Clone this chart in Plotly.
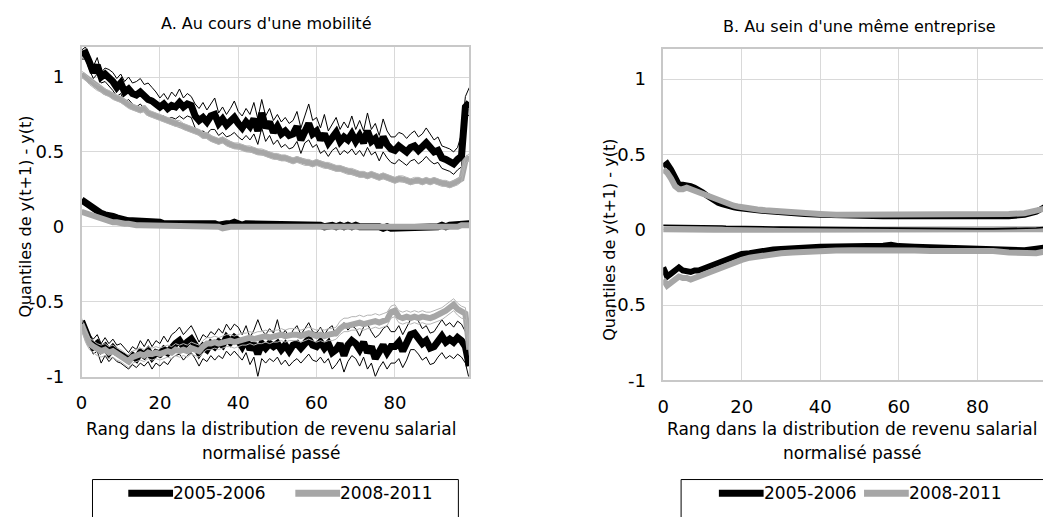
import plotly.graph_objects as go

W, H = 1043, 517

# ---------------- DATA ----------------
# Panel A : x = rank 0..99
LX = list(range(100))

A_black_q_hi = [1.15,1.16,1.10,1.03,1.08,1.00,1.02,1.00,0.97,0.93,
 0.96,0.90,0.92,0.89,0.88,0.90,0.87,0.85,0.84,0.82,
 0.80,0.82,0.79,0.81,0.80,0.83,0.80,0.82,0.81,0.74,
 0.71,0.73,0.70,0.74,0.75,0.69,0.72,0.68,0.70,0.73,
 0.69,0.66,0.70,0.67,0.72,0.64,0.76,0.66,0.70,0.63,
 0.67,0.62,0.64,0.61,0.62,0.67,0.58,0.65,0.69,0.62,
 0.64,0.58,0.62,0.56,0.60,0.63,0.57,0.60,0.58,0.62,
 0.57,0.61,0.56,0.64,0.57,0.59,0.53,0.60,0.55,0.52,
 0.51,0.54,0.52,0.50,0.53,0.54,0.51,0.53,0.56,0.53,
 0.50,0.51,0.46,0.45,0.44,0.42,0.45,0.47,0.80,0.83]
A_black_q_hi_ciup = [1.18,1.20,1.14,1.07,1.13,1.03,1.06,1.05,1.03,0.99,
 1.02,0.97,1.00,0.96,0.97,0.99,0.95,0.96,0.93,0.90,
 0.86,0.89,0.85,0.90,0.87,0.92,0.86,0.89,0.87,0.82,
 0.79,0.83,0.78,0.82,0.86,0.76,0.80,0.75,0.79,0.84,
 0.77,0.74,0.79,0.75,0.83,0.72,0.85,0.74,0.79,0.71,
 0.75,0.70,0.73,0.69,0.71,0.77,0.66,0.74,0.82,0.71,
 0.73,0.66,0.75,0.64,0.69,0.73,0.65,0.70,0.66,0.74,
 0.65,0.71,0.64,0.76,0.65,0.69,0.61,0.72,0.64,0.60,
 0.60,0.63,0.62,0.59,0.62,0.64,0.60,0.62,0.66,0.62,
 0.58,0.60,0.54,0.53,0.52,0.50,0.53,0.62,0.87,0.93]
A_black_q_hi_cilo = [1.12,1.12,1.05,0.99,1.02,0.96,0.97,0.94,0.91,0.87,
 0.89,0.83,0.85,0.82,0.80,0.82,0.79,0.76,0.76,0.74,
 0.73,0.74,0.72,0.73,0.72,0.74,0.72,0.74,0.73,0.66,
 0.63,0.64,0.62,0.65,0.65,0.61,0.63,0.60,0.61,0.63,
 0.60,0.58,0.61,0.58,0.62,0.55,0.66,0.57,0.61,0.55,
 0.58,0.53,0.55,0.52,0.53,0.57,0.49,0.56,0.58,0.53,
 0.55,0.49,0.51,0.47,0.51,0.53,0.48,0.51,0.49,0.52,
 0.48,0.51,0.47,0.53,0.48,0.50,0.44,0.50,0.46,0.43,
 0.42,0.45,0.43,0.41,0.44,0.45,0.42,0.44,0.47,0.44,
 0.42,0.43,0.39,0.38,0.37,0.35,0.38,0.40,0.72,0.75]
A_grey_q_hi = [1.02,1.00,0.97,0.95,0.93,0.92,0.90,0.89,0.87,0.86,
 0.85,0.83,0.81,0.80,0.79,0.78,0.79,0.76,0.75,0.74,
 0.73,0.72,0.71,0.70,0.69,0.69,0.67,0.66,0.65,0.64,
 0.63,0.61,0.61,0.59,0.58,0.57,0.58,0.56,0.55,0.54,
 0.54,0.53,0.52,0.52,0.51,0.50,0.50,0.49,0.48,0.47,
 0.47,0.46,0.46,0.45,0.44,0.45,0.44,0.43,0.43,0.42,
 0.43,0.42,0.41,0.41,0.40,0.39,0.39,0.38,0.37,0.37,
 0.36,0.35,0.35,0.34,0.35,0.34,0.33,0.34,0.33,0.32,
 0.31,0.32,0.32,0.31,0.30,0.31,0.31,0.30,0.31,0.30,
 0.31,0.30,0.29,0.29,0.28,0.29,0.30,0.32,0.44,0.47]
A_grey_q_hi_ciup = [1.04,1.02,0.99,0.97,0.95,0.94,0.92,0.91,0.89,0.88,
 0.87,0.85,0.83,0.82,0.81,0.80,0.81,0.78,0.77,0.76,
 0.75,0.74,0.73,0.72,0.71,0.71,0.69,0.68,0.67,0.66,
 0.65,0.63,0.63,0.61,0.60,0.59,0.60,0.58,0.57,0.56,
 0.56,0.55,0.54,0.54,0.53,0.52,0.52,0.51,0.50,0.49,
 0.49,0.48,0.48,0.47,0.46,0.47,0.46,0.45,0.45,0.44,
 0.45,0.44,0.43,0.43,0.42,0.41,0.41,0.40,0.39,0.39,
 0.38,0.37,0.37,0.36,0.37,0.36,0.35,0.36,0.35,0.34,
 0.33,0.34,0.34,0.33,0.32,0.33,0.33,0.32,0.33,0.32,
 0.33,0.32,0.31,0.31,0.30,0.31,0.32,0.34,0.46,0.49]
A_grey_q_hi_cilo = [1.00,0.98,0.95,0.93,0.91,0.90,0.88,0.87,0.85,0.84,
 0.83,0.81,0.79,0.78,0.77,0.76,0.77,0.74,0.73,0.72,
 0.71,0.70,0.69,0.68,0.67,0.67,0.65,0.64,0.63,0.62,
 0.61,0.59,0.59,0.57,0.56,0.55,0.56,0.54,0.53,0.52,
 0.52,0.51,0.50,0.50,0.49,0.48,0.48,0.47,0.46,0.45,
 0.45,0.44,0.44,0.43,0.42,0.43,0.42,0.41,0.41,0.40,
 0.41,0.40,0.39,0.39,0.38,0.37,0.37,0.36,0.35,0.35,
 0.34,0.33,0.33,0.32,0.33,0.32,0.31,0.32,0.31,0.30,
 0.29,0.30,0.30,0.29,0.28,0.29,0.29,0.28,0.29,0.28,
 0.29,0.28,0.27,0.27,0.26,0.27,0.28,0.30,0.42,0.45]
A_black_med = [0.18,0.16,0.14,0.12,0.11,0.09,0.08,0.08,0.07,0.06,
 0.05,0.04,0.04,0.04,0.04,0.03,0.04,0.03,0.03,0.03,
 0.03,0.02,0.02,0.03,0.02,0.03,0.02,0.03,0.02,0.02,
 0.02,0.03,0.02,0.02,0.02,0.01,0.02,0.02,0.02,0.03,
 0.02,0.01,0.02,0.02,0.01,0.02,0.01,0.02,0.01,0.01,
 0.02,0.01,0.01,0.01,0.02,0.01,0.01,0.01,0.01,0.01,
 0.01,0.01,0.00,0.01,0.01,0.00,0.01,0.00,0.01,0.00,
 0.01,0.00,0.00,0.01,0.00,0.00,0.00,-0.01,0.00,-0.01,
 -0.01,0.00,-0.01,-0.01,0.00,-0.01,-0.01,0.00,-0.01,0.00,
 0.00,0.00,0.01,0.00,0.01,0.01,0.01,0.02,0.02,0.02]
A_grey_med = [0.10,0.09,0.08,0.07,0.06,0.05,0.04,0.04,0.03,0.03,
 0.02,0.02,0.02,0.01,0.01,0.01,0.01,0.01,0.01,0.01,
 0.00,0.00,0.00,0.00,0.00,0.00,0.00,0.00,0.00,0.00,
 0.00,0.00,0.00,0.00,0.00,0.00,-0.01,0.00,0.00,0.00,
 0.00,-0.01,0.00,0.00,-0.01,0.00,0.00,-0.01,0.00,0.00,
 0.00,0.00,-0.01,0.00,0.00,0.00,-0.01,0.00,0.00,0.00,
 0.00,0.00,0.00,-0.01,0.00,0.00,0.00,0.00,-0.01,0.00,
 0.00,0.00,0.00,0.00,-0.01,0.00,0.00,0.00,0.00,-0.01,
 0.00,0.00,-0.01,0.00,0.00,0.00,0.00,-0.01,0.00,0.00,
 0.00,0.00,0.00,0.00,0.00,0.00,0.00,0.01,0.01,0.01]
A_black_q_lo = [-0.63,-0.70,-0.76,-0.80,-0.78,-0.82,-0.80,-0.84,-0.81,-0.84,
 -0.85,-0.87,-0.89,-0.86,-0.88,-0.84,-0.86,-0.83,-0.87,-0.84,
 -0.85,-0.82,-0.84,-0.80,-0.78,-0.76,-0.80,-0.77,-0.75,-0.79,
 -0.84,-0.80,-0.82,-0.78,-0.80,-0.77,-0.79,-0.74,-0.77,-0.74,
 -0.76,-0.80,-0.75,-0.82,-0.78,-0.85,-0.78,-0.81,-0.78,-0.80,
 -0.78,-0.82,-0.79,-0.83,-0.79,-0.78,-0.81,-0.78,-0.75,-0.79,
 -0.80,-0.77,-0.81,-0.78,-0.84,-0.82,-0.78,-0.86,-0.79,-0.76,
 -0.78,-0.82,-0.77,-0.84,-0.80,-0.88,-0.83,-0.79,-0.84,-0.80,
 -0.80,-0.77,-0.83,-0.78,-0.72,-0.71,-0.74,-0.78,-0.76,-0.81,
 -0.80,-0.76,-0.73,-0.77,-0.75,-0.77,-0.74,-0.76,-0.80,-0.93]
A_black_q_lo_ciup = [-0.62,-0.66,-0.72,-0.75,-0.72,-0.78,-0.74,-0.78,-0.75,-0.79,
 -0.78,-0.81,-0.84,-0.80,-0.82,-0.76,-0.80,-0.75,-0.80,-0.76,
 -0.78,-0.73,-0.77,-0.72,-0.70,-0.67,-0.72,-0.69,-0.66,-0.71,
 -0.77,-0.72,-0.74,-0.70,-0.72,-0.68,-0.71,-0.65,-0.69,-0.65,
 -0.67,-0.72,-0.66,-0.74,-0.69,-0.62,-0.69,-0.72,-0.68,-0.71,
 -0.62,-0.73,-0.69,-0.74,-0.69,-0.66,-0.72,-0.68,-0.64,-0.70,
 -0.71,-0.67,-0.72,-0.68,-0.66,-0.73,-0.68,-0.64,-0.69,-0.66,
 -0.68,-0.73,-0.67,-0.65,-0.70,-0.74,-0.72,-0.68,-0.66,-0.70,
 -0.70,-0.66,-0.72,-0.67,-0.62,-0.60,-0.63,-0.68,-0.66,-0.71,
 -0.70,-0.66,-0.62,-0.66,-0.64,-0.67,-0.63,-0.65,-0.70,-0.80]
A_black_q_lo_cilo = [-0.65,-0.74,-0.80,-0.85,-0.83,-0.91,-0.86,-0.90,-0.87,-0.90,
 -0.91,-0.93,-0.95,-0.92,-0.94,-0.91,-0.93,-0.90,-0.95,-0.91,
 -0.93,-0.90,-0.92,-0.88,-0.86,-0.85,-0.89,-0.86,-0.84,-0.88,
 -0.93,-0.88,-0.90,-0.86,-0.89,-0.86,-0.88,-0.83,-0.86,-0.83,
 -0.86,-0.89,-0.84,-0.92,-0.87,-1.00,-0.88,-0.91,-0.88,-0.90,
 -0.87,-0.92,-0.89,-0.93,-0.90,-0.88,-0.91,-0.88,-0.85,-0.89,
 -0.90,-0.87,-0.91,-0.88,-0.95,-0.92,-0.88,-0.97,-0.90,-0.86,
 -0.88,-0.93,-0.87,-0.95,-0.91,-1.00,-0.94,-0.90,-0.95,-0.91,
 -0.91,-0.88,-0.94,-0.89,-0.82,-0.82,-0.85,-0.89,-0.87,-0.92,
 -0.91,-0.87,-0.84,-0.88,-0.86,-0.88,-0.85,-0.87,-0.91,-1.02]
A_grey_q_lo = [-0.65,-0.73,-0.78,-0.80,-0.82,-0.83,-0.82,-0.84,-0.83,-0.85,
 -0.86,-0.88,-0.90,-0.87,-0.86,-0.85,-0.86,-0.84,-0.85,-0.84,
 -0.85,-0.84,-0.83,-0.84,-0.82,-0.83,-0.82,-0.83,-0.81,-0.82,
 -0.83,-0.80,-0.78,-0.78,-0.77,-0.78,-0.77,-0.76,-0.76,-0.77,
 -0.76,-0.75,-0.75,-0.74,-0.75,-0.74,-0.74,-0.73,-0.74,-0.73,
 -0.73,-0.72,-0.73,-0.72,-0.72,-0.72,-0.73,-0.72,-0.71,-0.72,
 -0.73,-0.72,-0.73,-0.72,-0.72,-0.71,-0.68,-0.66,-0.66,-0.65,
 -0.65,-0.64,-0.65,-0.64,-0.64,-0.63,-0.64,-0.63,-0.62,-0.57,
 -0.56,-0.60,-0.61,-0.60,-0.61,-0.60,-0.61,-0.60,-0.61,-0.61,
 -0.60,-0.59,-0.58,-0.56,-0.54,-0.52,-0.55,-0.57,-0.58,-0.82]
A_grey_q_lo_ciup = [-0.61,-0.69,-0.74,-0.76,-0.78,-0.79,-0.78,-0.80,-0.79,-0.81,
 -0.82,-0.84,-0.86,-0.83,-0.82,-0.81,-0.82,-0.80,-0.81,-0.80,
 -0.81,-0.80,-0.79,-0.80,-0.78,-0.79,-0.78,-0.79,-0.77,-0.78,
 -0.79,-0.76,-0.74,-0.74,-0.73,-0.74,-0.73,-0.72,-0.72,-0.73,
 -0.72,-0.71,-0.71,-0.70,-0.71,-0.70,-0.70,-0.69,-0.70,-0.69,
 -0.69,-0.68,-0.69,-0.68,-0.68,-0.68,-0.69,-0.68,-0.67,-0.68,
 -0.69,-0.68,-0.69,-0.68,-0.68,-0.67,-0.63,-0.61,-0.61,-0.60,
 -0.60,-0.59,-0.60,-0.59,-0.59,-0.58,-0.59,-0.58,-0.57,-0.53,
 -0.52,-0.56,-0.57,-0.56,-0.57,-0.56,-0.57,-0.56,-0.57,-0.57,
 -0.56,-0.55,-0.54,-0.52,-0.50,-0.48,-0.51,-0.53,-0.54,-0.78]
A_grey_q_lo_cilo = [-0.69,-0.77,-0.82,-0.84,-0.86,-0.87,-0.86,-0.88,-0.87,-0.89,
 -0.90,-0.92,-0.94,-0.91,-0.90,-0.89,-0.90,-0.88,-0.89,-0.88,
 -0.89,-0.88,-0.87,-0.88,-0.86,-0.87,-0.86,-0.87,-0.85,-0.86,
 -0.87,-0.84,-0.82,-0.82,-0.81,-0.82,-0.81,-0.80,-0.80,-0.81,
 -0.80,-0.79,-0.79,-0.78,-0.79,-0.78,-0.78,-0.77,-0.78,-0.77,
 -0.77,-0.76,-0.77,-0.76,-0.76,-0.76,-0.77,-0.76,-0.75,-0.76,
 -0.77,-0.76,-0.77,-0.76,-0.76,-0.75,-0.72,-0.70,-0.70,-0.69,
 -0.69,-0.68,-0.69,-0.68,-0.68,-0.67,-0.68,-0.67,-0.66,-0.61,
 -0.60,-0.64,-0.65,-0.64,-0.65,-0.64,-0.65,-0.64,-0.65,-0.65,
 -0.64,-0.63,-0.62,-0.60,-0.58,-0.56,-0.59,-0.61,-0.62,-0.86]

# Panel B
RX = [0,1,2,3,4,5,6,7,8,9,10,11,12,13,14,15,16,17,18,19,20,
      22,24,26,28,30,33,36,40,44,48,52,56,58,60,
      64,68,72,76,80,84,88,92,95,97,99]
B_black_q_hi = [0.42,0.44,0.40,0.34,0.30,0.30,0.30,0.29,0.28,0.27,0.25,0.23,0.21,0.20,0.18,0.17,0.16,0.155,0.15,0.145,0.14,
 0.135,0.13,0.125,0.12,0.115,0.11,0.105,0.10,0.095,0.095,0.09,0.09,0.09,0.09,
 0.09,0.085,0.085,0.085,0.085,0.085,0.09,0.10,0.12,0.15,0.18]
B_grey_q_hi = [0.40,0.38,0.34,0.29,0.27,0.27,0.28,0.27,0.26,0.25,0.23,0.22,0.21,0.20,0.19,0.18,0.17,0.165,0.16,0.155,0.15,
 0.14,0.135,0.13,0.125,0.12,0.115,0.11,0.105,0.10,0.10,0.10,0.10,0.10,0.10,
 0.10,0.10,0.10,0.10,0.10,0.10,0.105,0.11,0.125,0.14,0.16]
B_black_med = [0.03,0.03,0.03,0.03,0.03,0.03,0.03,0.03,0.028,0.028,0.027,0.027,0.026,0.026,0.025,0.025,0.024,0.024,0.023,0.023,0.022,
 0.021,0.02,0.02,0.019,0.018,0.017,0.016,0.015,0.014,0.013,0.012,0.011,0.011,0.01,
 0.009,0.008,0.007,0.006,0.006,0.006,0.007,0.009,0.012,0.016,0.022]
B_grey_med = [0.004,0.003,0.003,0.002,0.002,0.002,0.001,0.001,0.001,0.0,0.0,0.0,0.0,0.0,0.0,0.0,0.0,0.0,0.0,0.0,0.0,
 0.0,0.0,0.0,0.0,0.0,-0.001,-0.001,-0.001,-0.001,-0.002,-0.002,-0.002,-0.002,-0.002,
 -0.002,-0.002,-0.002,-0.002,-0.002,-0.002,-0.002,-0.001,0.0,0.002,0.004]
B_black_q_lo = [-0.25,-0.31,-0.29,-0.27,-0.25,-0.27,-0.28,-0.28,-0.27,-0.27,-0.26,-0.25,-0.24,-0.23,-0.22,-0.21,-0.20,-0.19,-0.17,-0.17,-0.16,
 -0.155,-0.145,-0.14,-0.13,-0.127,-0.12,-0.117,-0.112,-0.11,-0.11,-0.11,-0.105,-0.10,-0.108,
 -0.112,-0.115,-0.118,-0.118,-0.118,-0.125,-0.13,-0.135,-0.125,-0.115,-0.11]
B_grey_q_lo = [-0.33,-0.37,-0.35,-0.33,-0.31,-0.32,-0.32,-0.33,-0.32,-0.31,-0.30,-0.29,-0.28,-0.27,-0.26,-0.25,-0.24,-0.23,-0.21,-0.205,-0.20,
 -0.185,-0.175,-0.17,-0.16,-0.155,-0.15,-0.145,-0.14,-0.137,-0.135,-0.135,-0.133,-0.13,-0.135,
 -0.137,-0.14,-0.14,-0.14,-0.137,-0.14,-0.15,-0.155,-0.155,-0.145,-0.135]

TITLE_A = "A. Au cours d'une mobilité"
TITLE_B = "B. Au sein d'une même entreprise"
YTITLE = "Quantiles de y(t+1) - y(t)"
XTITLE_1 = "Rang dans la distribution de revenu salarial"
XTITLE_2 = "normalisé passé"
SERIES = ["2005-2006", "2008-2011"]
XTICKS = [0, 20, 40, 60, 80]
YTICKS = [-1, -0.5, 0, 0.5, 1]
YTICKTEXT = ["-1", "-0.5", "0", "0.5", "1"]

# ---------------- STYLE ----------------
BLACK = "#000000"
GREY = "#a6a6a6"
FONT = "DejaVu Sans"
THICK_B = 7
THICK_G = 6

def fx(p):
    return p / W

def fy(p):
    return 1 - p / H

fig = go.Figure()

def line(x, y, color, width, xa, ya):
    fig.add_trace(go.Scatter(x=x, y=y, mode="lines", xaxis=xa, yaxis=ya,
                             line=dict(color=color, width=width),
                             showlegend=False, hoverinfo="skip"))

# Panel A
for s in [A_black_q_hi_ciup, A_black_q_hi_cilo, A_black_q_lo_ciup, A_black_q_lo_cilo]:
    line(LX, s, BLACK, 1, "x", "y")
for s in [A_black_q_hi, A_black_med, A_black_q_lo]:
    line(LX, s, BLACK, THICK_B, "x", "y")
for s in [A_grey_q_hi, A_grey_med, A_grey_q_lo]:
    line(LX, s, GREY, THICK_G, "x", "y")
for s in [A_grey_q_hi_ciup, A_grey_q_hi_cilo, A_grey_q_lo_ciup, A_grey_q_lo_cilo]:
    line(LX, s, "#b4b4b4", 1, "x", "y")

# Panel B
line(RX, B_black_q_hi, BLACK, THICK_G, "x2", "y2")
line(RX, B_black_q_lo, BLACK, THICK_G, "x2", "y2")
line(RX, B_grey_q_hi, GREY, THICK_G, "x2", "y2")
line(RX, B_grey_med, GREY, THICK_G, "x2", "y2")
line(RX, B_grey_q_lo, GREY, THICK_G, "x2", "y2")
line(RX, B_black_med, BLACK, 1.6, "x2", "y2")

GRID = "#d9d9d9"
AXL = "#c8c8c8"
tickfont = dict(family=FONT, size=18, color="#000000")

def xax(domain, rng, anchor):
    return dict(domain=domain, range=rng, tickvals=XTICKS, showgrid=True, gridcolor=GRID,
                gridwidth=1, showline=True, linecolor=AXL, linewidth=1.5, mirror=True,
                zeroline=False, ticks="", tickfont=tickfont, anchor=anchor,
                ticklabelstandoff=9, fixedrange=True)

def yax(domain, anchor, mirror):
    return dict(domain=domain, range=[-1, 1.2], tickvals=YTICKS, ticktext=YTICKTEXT,
                showgrid=True, gridcolor=GRID, gridwidth=1, showline=True, linecolor=AXL,
                linewidth=1.5, mirror=mirror, zeroline=False, ticks="", tickfont=tickfont,
                anchor=anchor, ticklabelstandoff=12, fixedrange=True)

fig.update_layout(
    width=W, height=H, margin=dict(l=0, r=0, t=0, b=0),
    paper_bgcolor="white", plot_bgcolor="white", showlegend=False,
    font=dict(family=FONT, color="#000000"),
    xaxis=xax([fx(76), fx(466)], [0, 99], "y"),
    yaxis=yax([fy(384), fy(48)], "x", True),
    xaxis2=xax([fx(661), 1.0], [0, 96.7], "y2"),
    yaxis2=yax([fy(388), fy(50)], "x2", False),
)

ann = []
def text(t, x, y, size=16, xanchor="center", angle=0):
    ann.append(dict(text=t, x=fx(x), y=fy(y), xref="paper", yref="paper",
                    xanchor=xanchor, yanchor="middle", showarrow=False, textangle=angle,
                    font=dict(family=FONT, size=size, color="#000000")))

text(TITLE_A, 262, 24, 16)
text(TITLE_B, 858, 27, 16)
text(YTITLE, 20, 221, 16, angle=-90)
text(YTITLE, 607, 245, 16, angle=-90)
for cx in (267, 851):
    text(XTITLE_1, cx, 437, 17)
    text(XTITLE_2, cx, 462, 17)

shapes = []
for (bx0, bx1, s1, s2) in [(87, 455, 123, 291), (679, 1070, 717, 863)]:
    shapes.append(dict(type="rect", xref="paper", yref="paper", x0=fx(bx0), x1=fx(bx1),
                       y0=fy(540), y1=fy(489), line=dict(color="#000000", width=1),
                       fillcolor="rgba(0,0,0,0)"))
    shapes.append(dict(type="line", xref="paper", yref="paper", x0=fx(s1), x1=fx(s1 + 45),
                       y0=fy(503), y1=fy(503), line=dict(color=BLACK, width=THICK_B)))
    shapes.append(dict(type="line", xref="paper", yref="paper", x0=fx(s2), x1=fx(s2 + 45),
                       y0=fy(503), y1=fy(503), line=dict(color=GREY, width=THICK_B)))
    text(SERIES[0], s1 + 43, 503, 17, xanchor="left")
    text(SERIES[1], s2 + 43, 503, 17, xanchor="left")

fig.update_layout(annotations=ann, shapes=shapes)
fig.write_html("out.html")
